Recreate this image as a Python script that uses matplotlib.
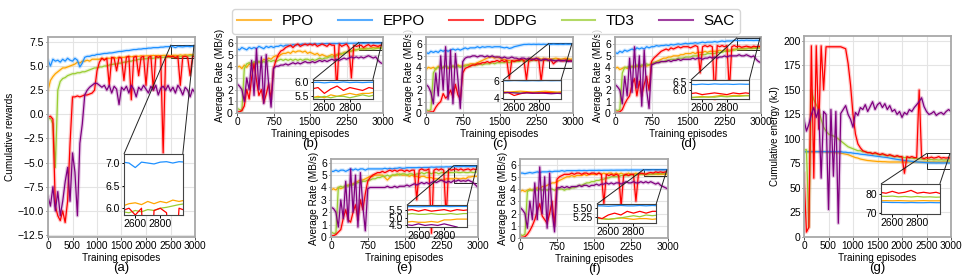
import numpy as np
import matplotlib
matplotlib.use("Agg")
import matplotlib.pyplot as plt
from matplotlib.lines import Line2D
from mpl_toolkits.axes_grid1.inset_locator import mark_inset

plt.rcParams['font.family'] = ['Liberation Sans', 'DejaVu Sans']

episodes = np.arange(0, 3001, 50)
algos = ["PPO", "EPPO", "DDPG", "TD3", "SAC"]
colors = {"PPO": "#FFA500", "EPPO": "#1E90FF", "DDPG": "#FF0000",
          "TD3": "#9ACD32", "SAC": "#800080"}

# ---- (a) cumulative rewards ----
a_ppo = [2.5, 3.5, 3.9, 4.2, 4.4, 4.6, 4.8, 4.8, 4.9, 5.0,
         5.1, 5.2, 5.4, 5.3, 5.5, 5.5, 5.6, 5.5, 5.7, 5.7,
         5.7, 5.7, 5.8, 5.7, 5.8, 5.8, 5.8, 5.9, 5.8, 5.9,
         5.9, 5.9, 5.95, 6.0, 5.95, 6.0, 6.0, 6.0, 6.05, 6.0,
         6.05, 6.05, 6.05, 6.1, 6.05, 6.1, 6.05, 6.1, 6.1, 6.1,
         6.05, 6.1, 6.12, 6.08, 6.15, 6.1, 6.15, 6.12, 6.18, 6.15,
         6.18]
a_eppo = [5.6, 5.0, 5.7, 5.5, 5.6, 5.4, 5.7, 5.5, 5.8, 5.6,
          5.5, 5.8, 5.6, 4.9, 5.3, 5.9, 6.0, 6.0, 6.1, 6.1,
          6.2, 6.2, 6.25, 6.3, 6.3, 6.35, 6.35, 6.4, 6.45, 6.5,
          6.5, 6.55, 6.6, 6.6, 6.65, 6.7, 6.7, 6.75, 6.75, 6.8,
          6.8, 6.85, 6.85, 6.9, 6.9, 6.9, 6.95, 6.95, 7.0, 7.0,
          7.02, 7.0, 6.9, 7.02, 7.0, 6.98, 7.02, 7.03, 7.0, 7.03,
          7.02]
a_ddpg = [-0.3, -0.2, -0.5, -9.5, -10.5, -11.0, -10.0, -11.2, -9.0, -3.0,
          1.8, 1.8, 1.9, 1.8, 1.9, 2.0, 2.0, 2.1, 2.2, 2.5,
          4.5, 5.4, 5.8, 5.6, 5.8, 3.0, 5.9, 5.8, 4.5, 5.9,
          5.8, 3.5, 5.9, 6.0, 1.5, 5.9, 6.0, 4.0, 5.9, 6.0,
          3.0, 5.9, 6.0, 2.5, 6.0, 5.9, 6.0, -4.0, 5.9, 6.0,
          5.95, 6.0, 5.85, 6.0, 3.0, 5.95, 6.0, 5.9, 4.0, 6.0,
          5.95]
a_td3 = [-0.5, -0.4, -1.0, -5.5, 2.5, 3.4, 3.7, 3.8, 4.0, 4.1,
         4.2, 4.2, 4.3, 4.3, 4.4, 4.4, 4.5, 4.6, 4.7, 4.8,
         4.8, 4.9, 4.9, 5.0, 5.0, 5.1, 5.15, 5.2, 5.2, 5.3,
         5.3, 5.4, 5.4, 5.5, 5.5, 5.6, 5.6, 5.7, 5.7, 5.75,
         5.75, 5.8, 5.8, 5.8, 5.85, 5.85, 5.85, 5.9, 5.9, 5.9,
         5.92, 5.9, 5.95, 5.92, 5.97, 5.95, 6.0, 6.02, 6.05, 6.08,
         6.1]
a_sac = [-8.5, -9.5, -7.5, -10.0, -8.0, -10.5, -9.0, -7.0, -5.5, -9.0,
         -4.0, -6.0, -10.5, -3.0, -1.0, 2.0, 2.5, 2.8, 3.0, 3.2,
         3.2, 3.0, 2.8, 3.0, 2.5, 3.0, 2.2, 2.9, 2.6, 1.0,
         2.8, 2.5, 2.9, 2.2, 3.0, 2.6, 1.8, 2.8, 2.5, 3.0,
         2.6, 2.2, 2.9, 2.5, 3.0, 2.0, 2.7, 2.9, 2.5, 3.0,
         2.4, 2.8, 2.2, 3.0, 2.6, 2.0, 2.8, 2.5, 1.8, 2.6,
         2.2]

# ---- (b) average rate ----
b_ppo = [3.9, 4.0, 3.8, 4.1, 3.9, 4.2, 4.0, 4.3, 4.2, 4.4,
         4.3, 4.6, 4.5, 4.7, 4.6, 4.8, 4.9, 4.8, 5.0, 5.1,
         5.1, 5.2, 5.1, 5.3, 5.2, 5.3, 5.3, 5.2, 5.3, 5.1,
         5.2, 5.1, 5.0, 5.1, 4.9, 5.0, 4.9, 4.8, 4.9, 5.0,
         4.9, 5.0, 5.1, 5.0, 5.2, 5.2, 5.3, 5.3, 5.4, 5.4,
         5.45, 5.5, 5.45, 5.55, 5.5, 5.55, 5.6, 5.55, 5.6, 5.6,
         5.65]
b_eppo = [5.5, 5.4, 5.6, 5.5, 5.4, 5.6, 5.5, 5.6, 5.5, 5.7,
          5.6, 5.5, 5.7, 5.6, 5.7, 5.6, 5.7, 5.7, 5.8, 5.7,
          5.8, 5.8, 5.75, 5.85, 5.8, 5.85, 5.85, 5.9, 5.85, 5.9,
          5.9, 5.9, 5.92, 5.9, 5.93, 5.92, 5.93, 5.95, 5.93, 5.95,
          5.95, 5.94, 5.96, 5.95, 5.96, 5.97, 5.96, 5.97, 5.97, 5.98,
          5.97, 5.98, 5.96, 5.98, 5.97, 5.99, 5.97, 5.98, 5.97, 5.98,
          5.98]
b_ddpg = [0.1, 0.1, 0.2, 0.6, 2.0, 1.2, 3.0, 4.2, 2.8, 1.5,
          2.0, 0.9, 1.6, 2.5, 1.2, 3.8, 4.5, 5.0, 5.3, 5.4,
          5.6, 5.7, 5.8, 5.6, 5.8, 5.9, 5.7, 5.8, 5.9, 5.8,
          5.9, 5.8, 5.9, 5.7, 5.8, 5.9, 5.8, 5.7, 5.9, 5.8,
          5.8, 2.0, 5.9, 5.7, 5.8, 5.9, 5.6, 3.0, 5.8, 5.7,
          5.75, 5.8, 5.6, 5.75, 5.85, 5.7, 5.8, 5.75, 5.7, 5.8,
          5.75]
b_td3 = [0.4, 0.3, 0.2, 3.8, 4.2, 4.3, 4.2, 4.4, 4.3, 4.4,
         4.3, 4.4, 4.3, 4.5, 4.4, 4.5, 4.4, 4.5, 4.6, 4.5,
         4.6, 4.5, 4.6, 4.5, 4.6, 4.5, 4.6, 4.5, 4.6, 4.6,
         4.5, 4.6, 4.5, 4.6, 4.7, 4.6, 4.7, 4.7, 4.8, 4.8,
         4.8, 4.9, 5.0, 5.1, 5.1, 5.2, 5.25, 5.3, 5.35, 5.4,
         5.45, 5.45, 5.5, 5.45, 5.5, 5.5, 5.45, 5.5, 5.55, 5.5,
         5.55]
b_sac = [2.5, 2.3, 2.0, 1.0, 3.0, 2.0, 4.5, 1.5, 5.5, 2.0,
         4.8, 0.8, 5.0, 2.5, 0.5, 3.8, 4.0, 4.0, 4.1, 4.1,
         4.2, 4.1, 4.2, 4.3, 4.2, 4.3, 4.2, 4.3, 4.4, 4.3,
         4.3, 4.4, 4.3, 4.4, 4.5, 4.4, 4.5, 4.4, 4.5, 4.6,
         4.5, 4.6, 4.5, 4.6, 4.7, 4.6, 4.7, 4.8, 4.7, 4.8,
         4.7, 4.8, 4.7, 4.8, 4.9, 4.8, 4.7, 4.8, 4.5, 4.3,
         4.2]

# ---- (c) ----
c_ppo = [3.8, 4.0, 3.9, 4.0, 3.8, 4.1, 3.9, 4.0, 4.1, 3.9,
         4.0, 4.1, 4.0, 4.2, 4.1, 4.1, 4.2, 4.2, 4.3, 4.3,
         4.3, 4.4, 4.5, 4.6, 4.7, 4.8, 4.9, 4.9, 4.8, 4.9,
         4.8, 4.7, 4.7, 4.6, 4.6, 4.5, 4.6, 4.6, 4.7, 4.6,
         4.6, 4.7, 4.7, 4.8, 4.7, 4.8, 4.8, 4.7, 4.8, 4.7,
         4.75, 4.7, 4.75, 4.8, 4.75, 4.7, 4.75, 4.8, 4.75, 4.7,
         4.75]
c_eppo = [5.3, 5.2, 5.4, 5.3, 5.4, 5.3, 5.5, 5.4, 5.5, 5.4,
          5.5, 5.6, 5.5, 5.6, 5.5, 5.6, 5.7, 5.6, 5.7, 5.7,
          5.7, 5.8, 5.7, 5.8, 5.75, 5.8, 5.8, 5.75, 5.8, 5.8,
          5.8, 5.75, 5.7, 5.75, 5.65, 5.7, 5.8, 5.85, 5.9, 5.95,
          6.0, 6.0, 6.02, 6.0, 6.02, 6.0, 6.02, 6.0, 6.02, 6.0,
          6.02, 6.0, 6.03, 6.01, 6.0, 6.02, 6.0, 6.03, 6.01, 6.02,
          6.01]
c_ddpg = [0.05, 0.05, 0.1, 0.1, 0.5, 0.8, 1.0, 1.7, 1.3, 1.5,
          2.0, 1.4, 2.5, 1.6, 1.2, 3.5, 3.9, 4.0, 4.1, 4.2,
          4.2, 4.3, 4.3, 4.4, 4.4, 4.5, 4.4, 4.5, 4.5, 4.6,
          4.5, 4.6, 4.5, 4.6, 3.0, 4.6, 4.5, 4.6, 4.6, 4.7,
          4.6, 2.9, 4.7, 4.6, 4.7, 4.6, 4.7, 2.8, 4.6, 4.7,
          4.6, 4.65, 4.3, 4.5, 4.65, 4.6, 4.55, 4.65, 4.6, 4.55,
          4.6]
c_td3 = [0.3, 0.2, 0.3, 3.5, 3.9, 4.0, 3.9, 4.0, 4.1, 4.0,
         4.0, 4.1, 4.0, 4.1, 4.0, 4.1, 4.1, 4.2, 4.1, 4.2,
         4.2, 4.2, 4.3, 4.2, 4.3, 4.3, 4.3, 4.4, 4.3, 4.4,
         4.4, 4.4, 4.4, 4.5, 4.4, 4.5, 4.5, 4.5, 4.5, 4.6,
         4.5, 4.6, 4.5, 4.6, 4.6, 4.6, 4.6, 4.6, 4.6, 4.6,
         4.6, 4.6, 4.65, 4.6, 4.6, 4.65, 4.6, 4.6, 4.65, 4.6,
         4.6]
c_sac = [2.5, 2.3, 1.8, 0.8, 3.5, 1.5, 5.0, 2.0, 5.8, 1.2,
         5.5, 0.8, 5.2, 3.0, 0.4, 4.5, 4.8, 4.9, 4.9, 5.0,
         5.0, 4.9, 5.0, 5.0, 4.9, 5.0, 4.9, 5.0, 4.9, 4.9,
         4.9, 4.8, 4.9, 4.8, 4.8, 4.9, 4.8, 4.8, 4.7, 4.8,
         4.8, 4.7, 4.8, 4.7, 4.7, 4.8, 4.7, 4.6, 4.7, 4.7,
         4.6, 4.65, 4.6, 4.55, 4.6, 4.55, 4.6, 4.55, 4.5, 4.55,
         4.5]

# ---- (d) ----
d_ppo = [3.9, 4.0, 3.8, 3.9, 4.0, 3.9, 4.0, 4.1, 4.0, 4.1,
         4.0, 4.1, 4.2, 4.1, 4.2, 4.3, 4.4, 4.5, 4.6, 4.7,
         4.8, 4.8, 4.9, 4.9, 5.0, 5.0, 5.0, 5.1, 5.1, 5.2,
         5.2, 5.2, 5.3, 5.2, 5.3, 5.3, 5.3, 5.4, 5.3, 5.4,
         5.4, 5.4, 5.4, 5.5, 5.4, 5.5, 5.5, 5.5, 5.5, 5.6,
         5.6, 5.6, 5.65, 5.6, 5.65, 5.7, 5.65, 5.7, 5.7, 5.7,
         5.7]
d_eppo = [5.3, 5.2, 5.4, 5.3, 5.5, 5.4, 5.5, 5.6, 5.5, 5.7,
          5.6, 5.7, 5.6, 5.8, 5.7, 5.8, 5.8, 5.9, 5.85, 5.9,
          5.9, 5.95, 5.9, 6.0, 5.95, 6.0, 6.05, 6.0, 6.05, 6.1,
          6.05, 6.1, 6.1, 6.15, 6.1, 6.15, 6.2, 6.15, 6.2, 6.2,
          6.2, 6.25, 6.2, 6.25, 6.3, 6.25, 6.3, 6.3, 6.3, 6.35,
          6.35, 6.33, 6.36, 6.34, 6.37, 6.35, 6.36, 6.34, 6.36, 6.35,
          6.35]
d_ddpg = [0.05, 0.05, 0.1, 0.3, 0.8, 1.2, 1.5, 2.5, 3.0, 1.5,
          2.8, 1.5, 2.5, 3.2, 2.0, 4.5, 4.8, 5.0, 5.2, 5.4,
          5.5, 5.6, 5.5, 5.7, 5.6, 5.7, 5.8, 5.7, 5.8, 5.8,
          5.8, 5.7, 5.8, 5.9, 5.8, 3.5, 5.8, 5.9, 5.8, 5.9,
          5.8, 1.2, 5.9, 5.8, 5.9, 5.8, 5.9, 2.0, 5.8, 5.9,
          5.8, 5.85, 5.75, 5.8, 5.85, 5.8, 5.75, 5.85, 5.8, 5.85,
          5.8]
d_td3 = [0.3, 0.2, 0.3, 3.5, 4.0, 4.0, 4.1, 4.0, 4.1, 4.2,
         4.1, 4.2, 4.2, 4.3, 4.2, 4.3, 4.4, 4.4, 4.5, 4.5,
         4.5, 4.6, 4.6, 4.7, 4.7, 4.7, 4.8, 4.8, 4.8, 4.9,
         4.9, 4.9, 5.0, 5.0, 5.0, 5.1, 5.1, 5.1, 5.2, 5.2,
         5.2, 5.2, 5.3, 5.3, 5.3, 5.4, 5.4, 5.4, 5.5, 5.5,
         5.55, 5.6, 5.6, 5.62, 5.6, 5.65, 5.62, 5.65, 5.65, 5.68,
         5.68]
d_sac = [2.5, 2.3, 2.0, 0.8, 3.2, 1.5, 4.8, 1.8, 5.8, 2.2,
         5.0, 0.6, 5.5, 2.0, 0.4, 4.2, 4.3, 4.4, 4.4, 4.5,
         4.5, 4.5, 4.6, 4.5, 4.6, 4.6, 4.7, 4.6, 4.7, 4.7,
         4.7, 4.7, 4.8, 4.7, 4.8, 4.8, 4.7, 4.8, 4.8, 4.9,
         4.8, 4.9, 4.8, 4.9, 4.9, 5.0, 4.9, 5.0, 5.0, 5.0,
         5.0, 5.1, 5.0, 5.0, 5.1, 5.0, 4.9, 5.0, 4.7, 4.5,
         4.4]

# ---- (e) ----
e_ppo = [3.8, 3.9, 3.8, 4.0, 3.9, 4.0, 4.1, 4.2, 4.2, 4.3,
         4.4, 4.5, 4.6, 4.6, 4.7, 4.8, 4.9, 4.9, 5.0, 5.0,
         5.0, 5.0, 4.8, 4.6, 4.8, 5.0, 5.0, 5.0, 5.1, 5.0,
         5.0, 5.0, 4.9, 5.0, 4.9, 4.9, 4.8, 4.9, 4.9, 4.8,
         4.8, 4.8, 4.7, 4.7, 4.7, 4.6, 4.6, 4.7, 4.7, 4.7,
         4.7, 4.75, 4.7, 4.7, 4.75, 4.7, 4.85, 4.85, 4.9, 4.9,
         4.9]
e_eppo = [5.3, 5.3, 5.4, 5.3, 5.4, 5.4, 5.3, 5.4, 5.5, 5.4,
          5.5, 5.4, 5.5, 5.5, 5.4, 5.5, 5.5, 5.5, 5.5, 5.5,
          5.5, 5.5, 5.55, 5.5, 5.55, 5.5, 5.55, 5.55, 5.6, 5.55,
          5.55, 5.6, 5.6, 5.6, 5.6, 5.6, 5.62, 5.6, 5.62, 5.62,
          5.62, 5.65, 5.63, 5.65, 5.65, 5.66, 5.65, 5.67, 5.66, 5.68,
          5.68, 5.69, 5.68, 5.69, 5.7, 5.69, 5.7, 5.69, 5.7, 5.7,
          5.7]
e_ddpg = [0.1, 0.1, 0.2, 0.4, 0.6, 1.5, 2.2, 1.4, 1.2, 2.0,
          2.6, 1.4, 3.0, 2.2, 3.5, 4.5, 4.8, 5.0, 5.1, 5.2,
          5.2, 5.3, 5.2, 5.3, 5.4, 5.3, 5.4, 5.3, 5.4, 5.4,
          5.3, 5.4, 5.3, 5.4, 5.4, 3.0, 5.4, 5.5, 5.4, 5.4,
          5.5, 0.3, 5.4, 5.5, 5.4, 5.5, 5.4, 1.6, 5.5, 5.4,
          5.45, 5.5, 5.4, 5.5, 5.4, 5.45, 5.5, 5.4, 5.5, 5.45,
          5.5]
e_td3 = [0.4, 0.3, 0.3, 4.0, 4.1, 4.0, 4.2, 4.1, 4.2, 4.2,
         4.3, 4.4, 4.4, 4.5, 4.5, 4.6, 4.6, 4.7, 4.7, 4.8,
         4.8, 4.9, 4.9, 5.0, 4.9, 5.0, 5.0, 5.1, 5.0, 5.1,
         5.1, 5.0, 5.1, 5.1, 5.0, 5.1, 5.1, 5.2, 5.1, 5.2,
         5.2, 5.1, 5.2, 5.2, 5.1, 5.2, 5.2, 5.2, 5.2, 5.2,
         5.2, 5.25, 5.2, 5.2, 5.25, 5.2, 5.2, 5.25, 5.2, 5.25,
         5.25]
e_sac = [2.4, 2.3, 2.0, 0.8, 3.0, 1.5, 4.5, 1.2, 5.5, 2.0,
         5.0, 0.8, 5.2, 2.5, 0.5, 3.9, 4.0, 4.0, 4.0, 4.0,
         4.0, 4.0, 4.0, 4.1, 4.0, 4.0, 4.1, 4.0, 4.1, 4.1,
         4.1, 4.2, 4.1, 4.2, 4.3, 4.2, 4.3, 4.4, 4.3, 4.4,
         4.3, 4.4, 4.5, 4.4, 4.5, 4.6, 4.5, 4.4, 4.5, 4.4,
         4.55, 4.5, 4.6, 4.5, 4.55, 4.5, 4.6, 4.5, 4.4, 4.2,
         4.0]

# ---- (f) ----
f_ppo = [3.8, 3.9, 3.8, 3.9, 4.0, 3.9, 4.0, 4.1, 4.0, 4.2,
         4.2, 4.3, 4.4, 4.5, 4.5, 4.6, 4.7, 4.8, 4.9, 5.0,
         5.0, 5.1, 5.0, 5.1, 5.1, 5.1, 5.2, 5.1, 5.2, 5.2,
         5.2, 5.2, 5.3, 5.2, 5.3, 5.2, 5.3, 5.3, 5.2, 5.3,
         5.2, 5.3, 5.2, 5.2, 5.3, 5.2, 5.2, 5.3, 5.2, 5.2,
         5.22, 5.2, 5.18, 5.2, 5.22, 5.2, 5.18, 5.2, 5.2, 5.18,
         5.2]
f_eppo = [5.3, 5.3, 5.25, 5.3, 5.35, 5.3, 5.35, 5.4, 5.35, 5.4,
          5.4, 5.4, 5.45, 5.4, 5.45, 5.45, 5.45, 5.5, 5.45, 5.5,
          5.5, 5.5, 5.5, 5.5, 5.52, 5.5, 5.52, 5.5, 5.52, 5.52,
          5.52, 5.52, 5.53, 5.52, 5.53, 5.53, 5.53, 5.54, 5.53, 5.54,
          5.54, 5.54, 5.54, 5.55, 5.54, 5.55, 5.55, 5.55, 5.55, 5.55,
          5.55, 5.55, 5.54, 5.55, 5.56, 5.55, 5.55, 5.56, 5.55, 5.56,
          5.55]
f_ddpg = [0.05, 0.05, 0.1, 0.3, 0.6, 1.0, 1.5, 2.2, 2.8, 1.8,
          1.5, 1.2, 2.0, 3.0, 1.0, 4.8, 5.0, 5.1, 5.2, 5.2,
          5.2, 5.3, 5.2, 5.3, 5.3, 5.2, 5.3, 5.3, 5.2, 5.3,
          5.3, 5.2, 5.3, 5.2, 2.8, 5.2, 5.1, 5.2, 5.1, 5.2,
          5.1, 2.6, 5.1, 5.2, 5.1, 5.2, 5.2, 3.0, 5.2, 5.3,
          5.25, 5.2, 5.3, 5.35, 5.3, 5.4, 5.35, 5.4, 5.35, 5.4,
          5.4]
f_td3 = [0.3, 0.2, 0.3, 3.8, 3.9, 3.9, 4.0, 3.9, 4.0, 3.9,
         4.0, 3.9, 4.0, 4.0, 3.9, 4.0, 4.0, 4.0, 3.9, 4.0,
         4.0, 4.1, 4.1, 4.2, 4.3, 4.3, 4.4, 4.5, 4.5, 4.6,
         4.6, 4.7, 4.7, 4.8, 4.8, 4.9, 4.9, 5.0, 5.0, 5.0,
         5.0, 5.1, 5.1, 5.1, 5.1, 5.15, 5.15, 5.15, 5.2, 5.2,
         5.2, 5.2, 5.18, 5.2, 5.22, 5.25, 5.28, 5.25, 5.3, 5.28,
         5.3]
f_sac = [2.5, 2.3, 2.0, 0.8, 3.0, 1.5, 4.5, 1.5, 5.8, 2.0,
         5.0, 0.8, 5.3, 2.2, 0.5, 4.1, 4.1, 4.2, 4.1, 4.2,
         4.1, 4.2, 4.2, 4.2, 4.3, 4.2, 4.3, 4.3, 4.2, 4.3,
         4.3, 4.4, 4.3, 4.4, 4.4, 4.5, 4.4, 4.5, 4.4, 4.5,
         4.5, 4.4, 4.5, 4.6, 4.5, 4.5, 4.6, 4.5, 4.5, 4.6,
         4.5, 4.6, 4.5, 4.6, 4.5, 4.4, 4.5, 4.3, 4.2, 4.1,
         4.0]

# ---- (g) cumulative energy ----
g_ppo = [87, 87, 87, 87, 87, 87, 87, 87, 87, 86.5,
         86.5, 86.5, 86, 86, 86, 85.5, 85, 84.5, 84, 83,
         82, 81, 80.5, 79.5, 79, 78.5, 78, 77.8, 77.5, 77.3,
         77, 77, 76.8, 76.8, 76.6, 76.5, 76.5, 76.5, 76.5, 76.5,
         76.5, 76.5, 76.5, 76.5, 76.5, 76.5, 76.5, 76.5, 76.5, 76.5,
         76.5, 76.6, 76.5, 76.6, 76.5, 76.4, 76.5, 76.6, 76.5, 76.5,
         76.5]
g_eppo = [87, 87, 87, 87, 87, 87, 87, 87, 87, 87,
          87, 87, 87, 87, 87, 87, 86.5, 86.5, 86, 86,
          85.5, 85.2, 85, 84.5, 84.2, 84, 83.6, 83.3, 83, 82.6,
          82.3, 82, 81.6, 81.3, 81, 80.5, 80, 79.6, 79.2, 78.8,
          78.5, 78.1, 77.8, 77.5, 77.2, 76.9, 76.6, 76.4, 76.2, 76,
          75.8, 75.7, 75.6, 75.6, 75.5, 75.6, 75.5, 75.5, 75.6, 75.5,
          75.5]
g_ddpg = [65, 5, 10, 195, 60, 195, 110, 195, 150, 194,
          194, 194, 194, 194, 194, 194, 193, 192, 177, 155,
          125, 105, 95, 91, 88, 87, 86, 86, 85, 86,
          85, 84, 85, 84, 83, 84, 83, 82, 83, 82,
          82, 65, 82, 81, 82, 81, 81, 150, 81, 80,
          81, 80.5, 81.5, 80.5, 81, 82, 80.5, 81, 80.5, 81,
          80]
g_td3 = [89, 89, 10, 150, 140, 135, 130, 120, 112, 108,
         105, 104, 103, 102, 100, 98, 96, 94, 92, 91,
         90, 89, 88, 88, 87, 87, 86, 86, 85, 85,
         84.5, 84, 84, 83.5, 83, 83, 82.5, 82, 82, 81.5,
         81.5, 81, 81, 80.5, 80.5, 80, 80, 79.5, 79.5, 79,
         79, 78.8, 79, 78.6, 78.8, 78.5, 78.8, 78.5, 78.6, 78.4,
         78.5]
g_sac = [120, 108, 115, 125, 132, 122, 130, 60, 128, 125,
         28, 130, 62, 128, 14, 126, 130, 134, 125, 120,
         112, 127, 124, 132, 130, 135, 128, 133, 138, 130,
         135, 137, 132, 136, 130, 134, 128, 130, 125, 128,
         122, 127, 125, 130, 128, 132, 135, 138, 142, 133,
         128, 125, 126, 128, 124, 126, 127, 125, 128, 130,
         128]

rate_label = "Average Rate (MB/s)"
rate_xticks = [0, 750, 1500, 2250, 3000]
long_xticks = [0, 500, 1000, 1500, 2000, 2500, 3000]

# label, axes box in pixels (left, top, right, bottom), series, ylim, yticks,
# xticks, ylabel, ylabel x (axes fraction), inset bounds, inset ylim, inset yticks
panels = [
    ("(a)", (48, 37, 195, 237), (a_ppo, a_eppo, a_ddpg, a_td3, a_sac),
     (-12.7, 8.0), np.arange(-12.5, 7.6, 2.5), long_xticks, "Cumulative rewards", None,
     [0.517, 0.11, 0.40, 0.305], (5.85, 7.2), [6.0, 6.5, 7.0]),
    ("(b)", (237, 37, 383, 113), (b_ppo, b_eppo, b_ddpg, b_td3, b_sac),
     (0, 6.5), range(7), rate_xticks, rate_label, None,
     [0.52, 0.185, 0.41, 0.25], (5.41, 6.06), [5.5, 6.0]),
    ("(c)", (426, 37, 573, 113), (c_ppo, c_eppo, c_ddpg, c_td3, c_sac),
     (0, 6.65), range(7), rate_xticks, rate_label, None,
     [0.524, 0.185, 0.395, 0.25], (3.9, 6.1), [4, 6]),
    ("(d)", (615, 37, 761, 113), (d_ppo, d_eppo, d_ddpg, d_td3, d_sac),
     (0, 6.65), range(7), rate_xticks, rate_label, None,
     [0.52, 0.185, 0.40, 0.25], (5.5, 6.6), [6.0, 6.5]),
    ("(e)", (331, 159, 478, 237), (e_ppo, e_eppo, e_ddpg, e_td3, e_sac),
     (0, 6.3), range(7), rate_xticks, rate_label, None,
     [0.517, 0.128, 0.41, 0.28], (4.4, 5.78), [4.5, 5.0, 5.5]),
    ("(f)", (520, 159, 668, 238), (f_ppo, f_eppo, f_ddpg, f_td3, f_sac),
     (0, 6.45), range(7), rate_xticks, rate_label, None,
     [0.52, 0.19, 0.40, 0.24], (5.08, 5.6), [5.25, 5.50]),
    ("(g)", (804, 36, 951, 237), (g_ppo, g_eppo, g_ddpg, g_td3, g_sac),
     (0, 205), range(0, 201, 25), long_xticks, "Cumulative energy (kJ)", -0.16,
     [0.524, 0.114, 0.40, 0.15], (69.5, 85.4), [70, 80]),
]

W, H = 969, 280
fig = plt.figure(figsize=(W / 100, H / 100), dpi=100)

draw_order = [0, 1, 3, 2, 4]  # PPO, EPPO, TD3, DDPG, SAC


def draw_lines(ax, series, thin=False):
    for i in draw_order:
        vals = np.asarray(series[i], dtype=float)
        c = colors[algos[i]]
        if not thin:
            ax.plot(episodes, vals, color=c, lw=2.6, alpha=0.22, solid_joinstyle='round')
        ax.plot(episodes, vals, color=c, lw=0.9)


for (lab, box, series, ylim, yticks, xticks, ylabel, ylab_x, ibox, iylim, iyticks) in panels:
    for s in series:
        assert len(s) == len(episodes), lab
    left, top, right, bottom = box
    ax = fig.add_axes([left / W, 1 - bottom / H, (right - left) / W, (bottom - top) / H])
    draw_lines(ax, series)
    ax.set_xlim(0, 3000)
    ax.set_ylim(*ylim)
    ax.set_xticks(xticks)
    ax.set_yticks(list(yticks))
    ax.grid(True, color='#e4e4e4', lw=0.8)
    ax.set_axisbelow(True)
    for sp in ax.spines.values():
        sp.set_color('#a8a8a8')
        sp.set_linewidth(1.3)
    ax.tick_params(labelsize=7.5, length=1.8, width=0.7, pad=1.2, color='#555555')
    ax.tick_params(axis='x', labelsize=7.3)
    ax.set_xlabel("Training episodes", fontsize=7.2, labelpad=1.0)
    ax.set_ylabel(ylabel, fontsize=7.0 if ylab_x is not None else 7.2, labelpad=1.5)
    if ylab_x is not None:
        ax.yaxis.set_label_coords(ylab_x, 0.5)
        ax.tick_params(axis='y', pad=0.6)
    ax.annotate(lab, xy=(0.5, 0), xycoords='axes fraction', xytext=(0, -22.5),
                textcoords='offset points', ha='center', va='center', fontsize=9.5)

    axins = ax.inset_axes(ibox)
    draw_lines(axins, series, thin=True)
    axins.set_xlim(2510, 2980)
    axins.set_ylim(*iylim)
    axins.set_xticks([2600, 2800])
    axins.set_yticks(iyticks)
    axins.tick_params(labelsize=7.5, length=1.8, width=0.7, pad=1.0)
    for sp in axins.spines.values():
        sp.set_color('#444444')
        sp.set_linewidth(0.8)
    mark_inset(ax, axins, loc1=2, loc2=1, fc="none", ec="#222222", lw=0.7)

handles = [Line2D([0], [0], color=colors[a], lw=1.5, alpha=0.75) for a in algos]
fig.legend(handles, algos, loc='upper center', bbox_to_anchor=(486 / W, 1 - 1.5 / H),
           ncol=5, fontsize=11, frameon=True, handlelength=2.2, handletextpad=0.7,
           columnspacing=1.6, borderpad=0.35, fancybox=True, edgecolor='#cccccc')

fig.savefig("out.png", dpi=100)
